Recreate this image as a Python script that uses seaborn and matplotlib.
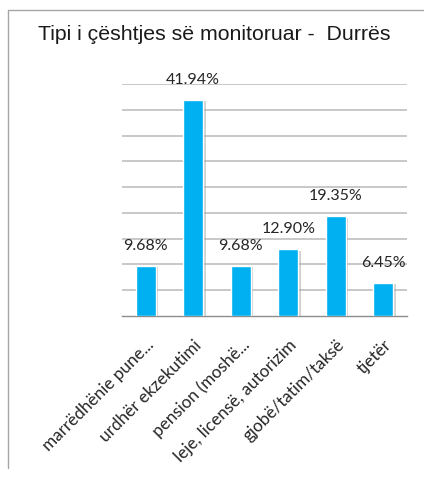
import numpy as np
import pandas as pd

import matplotlib.pyplot as plt
import matplotlib.patheffects as pe
from matplotlib.lines import Line2D
import seaborn as sns
sns.set_style("white")
plt.rcParams["font.family"] = ["Lato", "DejaVu Sans"]

# data
categories = ["marrëdhënie pune...", "urdhër ekzekutimi", "pension (moshë...",
              "leje, licensë, autorizim", "gjobë/tatim/taksë", "tjetër"]
values = [9.68, 41.94, 9.68, 12.90, 19.35, 6.45]
labels = ["9.68%", "41.94%", "9.68%", "12.90%", "19.35%", "6.45%"]

df = pd.DataFrame({"cat": categories, "val": values})

# %%
fig = plt.figure(figsize=(4.24, 4.86), dpi=100)
ax = fig.add_axes([0.2877, 0.3498, 0.6722, 0.4774])

sns.barplot(data=df, x="cat", y="val", color="#00B0F0", saturation=1,
            width=0.42, ax=ax, zorder=3)
for p in ax.patches:
    p.set_path_effects([pe.SimplePatchShadow(offset=(2, -1), shadow_rgbFace="#999999",
                                             alpha=0.45), pe.Normal()])

ax.set_ylim(0, 45)
ax.set_xlim(-0.5, len(categories) - 0.5)
ax.set_yticks(np.arange(5, 50, 5))
ax.yaxis.grid(True, color="#BFBFBF", linewidth=1.2, zorder=0)
ax.tick_params(axis="y", left=False, labelleft=False)
for s in ["left", "right", "top"]:
    ax.spines[s].set_visible(False)
ax.spines["bottom"].set_color("#8C8C8C")
ax.spines["bottom"].set_linewidth(1.0)

ax.set_xticks(np.arange(-0.5, len(categories)), minor=True)
ax.tick_params(axis="x", which="minor", length=5, color="#8C8C8C", width=1)
ax.tick_params(axis="x", which="major", length=0, pad=15)
ax.set_xticklabels(categories, rotation=45, ha="right", rotation_mode="anchor",
                   fontsize=12.3, color="#262626")
ax.set_xlabel("")
ax.set_ylabel("")

for i, (v, t) in enumerate(zip(values, labels)):
    ax.annotate(t, (i, v), xytext=(0, 14.5), textcoords="offset points",
                ha="center", va="center", fontsize=11.5, color="#262626")

fig.text(0.505, 0.928, "Tipi i çështjes së monitoruar -  Durrës",
         ha="center", va="center", fontsize=15.3, color="#1a1a1a",
         family=["Liberation Sans", "DejaVu Sans"])

# chart frame (cropped: top and left edges only)
fig.add_artist(Line2D([8 / 424, 1.0], [1 - 10 / 486, 1 - 10 / 486],
                      transform=fig.transFigure, color="#A6A6A6", lw=1))
fig.add_artist(Line2D([8 / 424, 8 / 424], [1 - 10 / 486, 1 - 468 / 486],
                      transform=fig.transFigure, color="#A6A6A6", lw=1))

fig.savefig("out.png", dpi=100)
